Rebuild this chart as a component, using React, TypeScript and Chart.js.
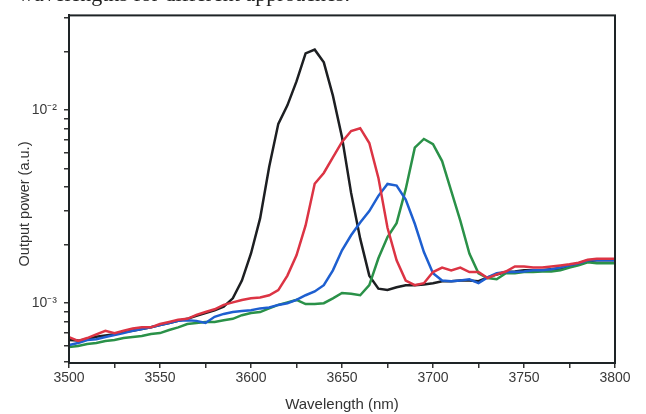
import React, { useEffect, useRef } from "react";
import { Chart, registerables } from "chart.js";

Chart.register(...registerables);

const wavelengths = [
  3500, 3505, 3510, 3515, 3520, 3525, 3530, 3535, 3540, 3545,
  3550, 3555, 3560, 3565, 3570, 3575, 3580, 3585, 3590, 3595,
  3600, 3605, 3610, 3615, 3620, 3625, 3630, 3635, 3640, 3645,
  3650, 3655, 3660, 3665, 3670, 3675, 3680, 3685, 3690, 3695,
  3700, 3705, 3710, 3715, 3720, 3725, 3730, 3735, 3740, 3745,
  3750, 3755, 3760, 3765, 3770, 3775, 3780, 3785, 3790, 3795, 3800,
];

const blackSeries = [
  6.45e-4, 6.4e-4, 6.5e-4, 6.7e-4, 6.8e-4, 6.9e-4, 7.1e-4, 7.2e-4, 7.35e-4, 7.5e-4,
  7.7e-4, 7.9e-4, 8.1e-4, 8.3e-4, 8.6e-4, 8.9e-4, 9.2e-4, 9.6e-4, 1.06e-3, 1.31e-3,
  1.81e-3, 2.75e-3, 5.1e-3, 8.5e-3, 1.06e-2, 1.41e-2, 1.97e-2, 2.06e-2, 1.77e-2, 1.19e-2,
  7.25e-3, 3.73e-3, 2.16e-3, 1.39e-3, 1.19e-3, 1.17e-3, 1.21e-3, 1.24e-3, 1.24e-3, 1.25e-3,
  1.27e-3, 1.3e-3, 1.3e-3, 1.31e-3, 1.31e-3, 1.3e-3, 1.36e-3, 1.41e-3, 1.45e-3, 1.46e-3,
  1.48e-3, 1.48e-3, 1.48e-3, 1.5e-3, 1.51e-3, 1.55e-3, 1.59e-3, 1.65e-3, 1.67e-3, 1.67e-3, 1.67e-3,
];

const redSeries = [
  6.68e-4, 6.37e-4, 6.6e-4, 6.9e-4, 7.2e-4, 7.0e-4, 7.2e-4, 7.4e-4, 7.5e-4, 7.5e-4,
  7.8e-4, 8.0e-4, 8.2e-4, 8.3e-4, 8.7e-4, 9.0e-4, 9.3e-4, 9.8e-4, 1.01e-3, 1.04e-3,
  1.06e-3, 1.07e-3, 1.1e-3, 1.17e-3, 1.39e-3, 1.77e-3, 2.53e-3, 4.16e-3, 4.73e-3, 5.7e-3,
  6.85e-3, 7.8e-3, 8.07e-3, 6.76e-3, 4.46e-3, 2.46e-3, 1.67e-3, 1.31e-3, 1.24e-3, 1.27e-3,
  1.45e-3, 1.53e-3, 1.48e-3, 1.53e-3, 1.45e-3, 1.45e-3, 1.35e-3, 1.41e-3, 1.46e-3, 1.55e-3,
  1.55e-3, 1.53e-3, 1.53e-3, 1.55e-3, 1.57e-3, 1.59e-3, 1.62e-3, 1.68e-3, 1.7e-3, 1.7e-3, 1.7e-3,
];

const blueSeries = [
  6.08e-4, 6.22e-4, 6.45e-4, 6.5e-4, 6.68e-4, 6.84e-4, 7.0e-4, 7.2e-4, 7.35e-4, 7.5e-4,
  7.7e-4, 7.9e-4, 8.1e-4, 8.17e-4, 8.1e-4, 7.9e-4, 8.5e-4, 8.8e-4, 9.0e-4, 9.1e-4,
  9.2e-4, 9.4e-4, 9.5e-4, 9.8e-4, 1.0e-3, 1.04e-3, 1.1e-3, 1.15e-3, 1.24e-3, 1.48e-3,
  1.88e-3, 2.25e-3, 2.62e-3, 3.0e-3, 3.6e-3, 4.15e-3, 4.07e-3, 3.44e-3, 2.58e-3, 1.84e-3,
  1.43e-3, 1.31e-3, 1.3e-3, 1.31e-3, 1.33e-3, 1.27e-3, 1.36e-3, 1.43e-3, 1.45e-3, 1.45e-3,
  1.46e-3, 1.48e-3, 1.48e-3, 1.5e-3, 1.53e-3, 1.57e-3, 1.61e-3, 1.67e-3, 1.67e-3, 1.67e-3, 1.67e-3,
];

const greenSeries = [
  5.93e-4, 6.0e-4, 6.15e-4, 6.22e-4, 6.37e-4, 6.45e-4, 6.6e-4, 6.68e-4, 6.76e-4, 6.92e-4,
  7.0e-4, 7.26e-4, 7.5e-4, 7.8e-4, 7.9e-4, 8.0e-4, 8.0e-4, 8.17e-4, 8.3e-4, 8.67e-4,
  8.9e-4, 9.0e-4, 9.4e-4, 9.8e-4, 1.01e-3, 1.04e-3, 9.9e-4, 9.9e-4, 1.0e-3, 1.06e-3,
  1.13e-3, 1.12e-3, 1.1e-3, 1.24e-3, 1.71e-3, 2.2e-3, 2.6e-3, 3.9e-3, 6.4e-3, 7.1e-3,
  6.68e-3, 5.45e-3, 3.82e-3, 2.68e-3, 1.81e-3, 1.43e-3, 1.35e-3, 1.33e-3, 1.43e-3, 1.43e-3,
  1.45e-3, 1.45e-3, 1.46e-3, 1.46e-3, 1.48e-3, 1.53e-3, 1.57e-3, 1.63e-3, 1.61e-3, 1.61e-3, 1.61e-3,
];

const xTicks = [3500, 3525, 3550, 3575, 3600, 3625, 3650, 3675, 3700, 3725, 3750, 3775, 3800];
const xLabelled = [3500, 3550, 3600, 3650, 3700, 3750, 3800];
const yTicks = [
  5e-4, 6e-4, 7e-4, 8e-4, 9e-4,
  1e-3, 2e-3, 3e-3, 4e-3, 5e-3, 6e-3, 7e-3, 8e-3, 9e-3,
  1e-2, 2e-2, 3e-2,
];
const yLabels: Record<string, string> = { "0.001": "10\u207B\u00B3", "0.01": "10\u207B\u00B2" };
const yTitle = "Output power (a.u.)";

const FONT = "'Liberation Sans', Arial, Helvetica, sans-serif";

const framePlugin = {
  id: "frame",
  afterDatasetsDraw(chart: any) {
    const { ctx, chartArea } = chart;
    ctx.save();
    ctx.strokeStyle = "#1e2426";
    ctx.lineWidth = 2;
    ctx.strokeRect(chartArea.left, chartArea.top, chartArea.right - chartArea.left, chartArea.bottom - chartArea.top);
    ctx.restore();
  },
  afterDraw(chart: any) {
    const { ctx } = chart;
    ctx.save();
    ctx.translate(25, 204);
    ctx.rotate(-Math.PI / 2);
    ctx.fillStyle = "#333";
    ctx.font = `14.5px ${FONT}`;
    ctx.textAlign = "center";
    ctx.textBaseline = "middle";
    ctx.fillText(yTitle, 0, 0);
    ctx.restore();
  },
};

export default function App() {
  const canvasRef = useRef<HTMLCanvasElement | null>(null);

  useEffect(() => {
    document.body.style.margin = "0";
    const canvas = canvasRef.current;
    if (!canvas) return;
    const mk = (vals: number[]) => wavelengths.map((x, i) => ({ x, y: vals[i] }));
    const ds = (label: string, vals: number[], color: string) => ({
      label,
      data: mk(vals),
      borderColor: color,
      backgroundColor: color,
      borderWidth: 2.5,
      pointRadius: 0,
      tension: 0,
      fill: false,
    });
    const chart = new Chart(canvas, {
      type: "line",
      data: {
        datasets: [
          ds("red", redSeries, "#dc3444"),
          ds("blue", blueSeries, "#1e5fd0"),
          ds("green", greenSeries, "#2a9148"),
          ds("black", blackSeries, "#1d1f22"),
        ],
      },
      options: {
        animation: false,
        responsive: false,
        maintainAspectRatio: false,
        layout: { padding: { left: 0, right: 31, top: 14, bottom: 0 } },
        plugins: { legend: { display: false }, tooltip: { enabled: false }, title: { display: false } },
        scales: {
          x: {
            type: "linear",
            min: 3500,
            max: 3800,
            afterBuildTicks: (scale: any) => {
              scale.ticks = xTicks.map((v) => ({ value: v }));
            },
            afterFit: (scale: any) => {
              scale.height = 51;
            },
            ticks: {
              autoSkip: false,
              maxRotation: 0,
              padding: 2,
              color: "#3a3a3a",
              font: { family: FONT, size: 14 },
              callback: (v: any) => (xLabelled.includes(Number(v)) ? String(v) : ""),
            },
            grid: { drawOnChartArea: false, drawTicks: true, tickLength: 5, color: "#333", lineWidth: 1.5 },
            border: { display: true, color: "#1e2426", width: 2 },
            title: {
              display: true,
              text: "Wavelength (nm)",
              color: "#333",
              font: { family: FONT, size: 15 },
              padding: { top: 1, bottom: 0 },
            },
          },
          y: {
            type: "logarithmic",
            min: 4.9e-4,
            max: 3.1e-2,
            afterBuildTicks: (scale: any) => {
              scale.ticks = yTicks.map((v) => ({ value: v }));
            },
            afterFit: (scale: any) => {
              scale.width = 69;
            },
            ticks: {
              autoSkip: false,
              padding: 7,
              color: "#3a3a3a",
              font: { family: FONT, size: 14 },
              callback: (v: any) => yLabels[String(Number(v))] || "",
            },
            grid: { drawOnChartArea: false, drawTicks: true, tickLength: 5, color: "#333", lineWidth: 1.5 },
            border: { display: true, color: "#1e2426", width: 2 },
          },
        },
      },
      plugins: [framePlugin],
    } as any);
    return () => chart.destroy();
  }, []);

  return (
    <div style={{ position: "relative", width: 646, height: 414, overflow: "hidden", background: "#fff" }}>
      <div
        style={{
          position: "absolute",
          left: 18,
          top: -19,
          fontFamily: "'Liberation Serif', 'Times New Roman', serif",
          fontSize: 22,
          color: "#222",
          whiteSpace: "nowrap",
        }}
      >
        wavelengths for different approaches.
      </div>
      <canvas ref={canvasRef} width={646} height={414} style={{ display: "block" }} />
    </div>
  );
}
